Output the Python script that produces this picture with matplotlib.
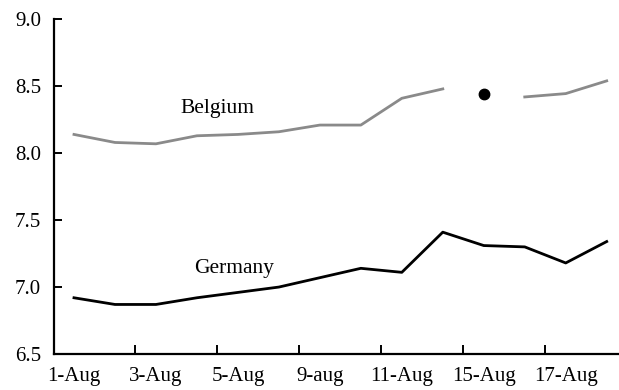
import numpy as np
import matplotlib.pyplot as plt

# 数据
days = ['1-Aug', '2-Aug', '3-Aug', '4-Aug', '5-Aug', '8-Aug', '9-aug',
        '10-Aug', '11-Aug', '12-Aug', '15-Aug', '16-Aug', '17-Aug', '18-Aug']
germany = [6.92, 6.87, 6.87, 6.92, 6.96, 7.00, 7.07,
           7.14, 7.11, 7.41, 7.31, 7.30, 7.18, 7.34]
belgium = [8.14, 8.08, 8.07, 8.13, 8.14, 8.16, 8.21,
           8.21, 8.41, 8.48, np.nan, 8.42, 8.445, 8.54]
belgium_point_day = '15-Aug'
belgium_point = 8.44
shown_labels = ['1-Aug', '3-Aug', '5-Aug', '9-aug', '11-Aug', '15-Aug', '17-Aug']

plt.rcParams['font.family'] = ['Liberation Serif', 'DejaVu Serif']

fig = plt.figure(figsize=(6.19, 3.90), dpi=100)
ax = fig.add_axes([53.5 / 619, 36 / 390, 1 - 53.5 / 619, (354 - 19.3) / 390])

x = np.arange(len(days))
ax.plot(x, germany, color='black', lw=2.0)
ax.plot(x, belgium, color='#8a8a8a', lw=2.0)
ax.plot(days.index(belgium_point_day), belgium_point, 'o', color='black', ms=7.5)

ax.text(3.5, 8.33, 'Belgium', fontsize=15.5, ha='center', va='center')
ax.text(3.9, 7.14, 'Germany', fontsize=15.5, ha='center', va='center')

ax.set_xlim(-0.5, 13.3)
ax.set_ylim(6.5, 9.0)
ax.set_yticks([6.5, 7.0, 7.5, 8.0, 8.5, 9.0])
ax.set_yticklabels(['6.5', '7.0', '7.5', '8.0', '8.5', '9.0'])

ax.set_xticks([days.index(d) for d in shown_labels])
ax.set_xticklabels(shown_labels)
ax.set_xticks(np.arange(1.5, 12, 2), minor=True)
ax.tick_params(axis='x', which='major', length=0, pad=9, labelsize=15)
ax.tick_params(axis='x', which='minor', direction='in', length=6.5, width=1.4)
ax.tick_params(axis='y', direction='in', length=6, width=1.4, pad=9, labelsize=15)

for s in ['top', 'right']:
    ax.spines[s].set_visible(False)
for s in ['left', 'bottom']:
    ax.spines[s].set_linewidth(1.6)

plt.savefig('out.png', dpi=100)
